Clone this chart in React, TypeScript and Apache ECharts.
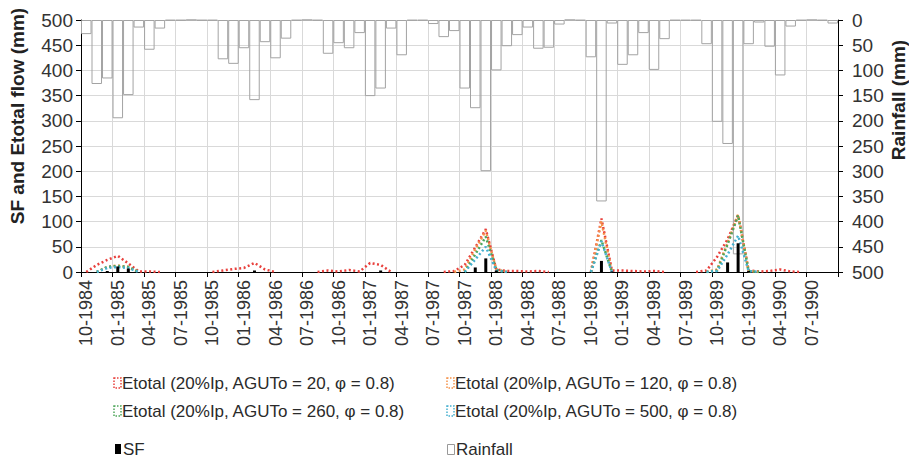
import React, { useEffect, useRef } from "react";
import * as echarts from "echarts";

// ---- data ----
const START_MONTH = 10;
const START_YEAR = 1984;
const MONTH_COUNT = 72;
const months: string[] = [];
for (let k = 0; k < MONTH_COUNT; k++) {
  const m = ((START_MONTH - 1 + k) % 12) + 1;
  const y = START_YEAR + Math.floor((START_MONTH - 1 + k) / 12);
  months.push(`${String(m).padStart(2, "0")}-${y}`);
}

const rainfall: number[] = [
  28, 127, 116, 195, 149, 15, 59, 17, 1, 1, 0, 1,
  1, 78, 87, 56, 159, 44, 76, 37, 1, 0, 1, 67,
  46, 56, 26, 151, 136, 17, 70, 1, 1, 8, 34, 22,
  136, 175, 300, 100, 52, 30, 15, 57, 55, 9, 0, 1,
  74, 360, 7, 89, 70, 26, 99, 38, 1, 1, 1, 48,
  202, 246, 465, 48, 5, 53, 110, 13, 1, 0, 1, 7,
];

const sf: number[] = [
  0, 0, 2, 11, 7, 0, 0, 0, 0, 0, 0, 0,
  0, 0, 0, 0, 3, 0, 0, 0, 0, 0, 0, 0,
  0, 0, 0, 0, 3, 0, 0, 0, 0, 0, 0, 0,
  0, 9, 27, 3, 0, 0, 0, 0, 0, 0, 0, 0,
  0, 22, 1, 0, 0, 0, 0, 0, 0, 0, 0, 0,
  0, 19, 57, 2, 0, 0, 0, 0, 0, 0, 0, 0,
];

const etotal20: number[] = [
  0, 14, 24, 32, 17, 1, 1, 0, 0, 0, 0, 0,
  0, 3, 6, 8, 18, 5, 0, 0, 0, 0, 0, 3,
  1, 4, 1, 18, 14, 0, 0, 0, 0, 0, 0, 2,
  14, 49, 85, 5, 2, 2, 1, 2, 0, 0, 0, 0,
  0, 106, 3, 3, 2, 1, 2, 0, 0, 0, 0, 3,
  30, 65, 113, 3, 1, 2, 5, 1, 0, 0, 0, 0,
];

const etotal120: number[] = [
  0, 0, 10, 13, 10, 0, 0, 0, 0, 0, 0, 0,
  0, 0, 0, 0, 0, 0, 0, 0, 0, 0, 0, 0,
  0, 0, 0, 0, 0, 0, 0, 0, 0, 0, 0, 0,
  5, 45, 82, 5, 0, 0, 0, 0, 0, 0, 0, 0,
  0, 100, 0, 0, 0, 0, 0, 0, 0, 0, 0, 0,
  5, 58, 114, 2, 0, 0, 0, 0, 0, 0, 0, 0,
];

const etotal260: number[] = [
  0, 0, 10, 12, 10, 0, 0, 0, 0, 0, 0, 0,
  0, 0, 0, 0, 0, 0, 0, 0, 0, 0, 0, 0,
  0, 0, 0, 0, 0, 0, 0, 0, 0, 0, 0, 0,
  0, 35, 70, 4, 0, 0, 0, 0, 0, 0, 0, 0,
  0, 63, 0, 0, 0, 0, 0, 0, 0, 0, 0, 0,
  3, 55, 112, 2, 0, 0, 0, 0, 0, 0, 0, 0,
];

const etotal500: number[] = [
  0, 0, 8, 10, 8, 0, 0, 0, 0, 0, 0, 0,
  0, 0, 0, 0, 0, 0, 0, 0, 0, 0, 0, 0,
  0, 0, 0, 0, 0, 0, 0, 0, 0, 0, 0, 0,
  0, 25, 50, 3, 0, 0, 0, 0, 0, 0, 0, 0,
  0, 61, 0, 0, 0, 0, 0, 0, 0, 0, 0, 0,
  2, 35, 72, 2, 0, 0, 0, 0, 0, 0, 0, 0,
];

const yTicks = { min: 0, max: 500, interval: 50 };

const lineNames = [
  "Etotal (20%Ip, AGUTo = 20, φ = 0.8)",
  "Etotal (20%Ip, AGUTo = 120, φ = 0.8)",
  "Etotal (20%Ip, AGUTo = 260, φ = 0.8)",
  "Etotal (20%Ip, AGUTo = 500, φ = 0.8)",
];
const lineData = [etotal20, etotal120, etotal260, etotal500];
const lineColors = ["#e8403c", "#f5924a", "#4ea65a", "#45b0d0"];

// hide long runs of zero (they lie on the axis)
const trimZeros = (arr: number[]) =>
  arr.map((v, i) =>
    v === 0 && (arr[i - 1] ?? 0) === 0 && (arr[i + 1] ?? 0) === 0 ? null : v
  );

const FONT = "'Liberation Sans', Arial, sans-serif";

export default function App() {
  const ref = useRef<HTMLDivElement>(null);
  useEffect(() => {
    if (!ref.current) return;
    const chart = echarts.init(ref.current, undefined, { renderer: "svg" });

    const legendItems: any[] = [];
    const legendPos = [
      { x: 114, y: 383 },
      { x: 447, y: 383 },
      { x: 114, y: 411 },
      { x: 447, y: 411 },
    ];
    lineNames.forEach((n, k) => {
      const p = legendPos[k];
      legendItems.push({
        type: "rect",
        shape: { x: p.x, y: p.y - 5, width: 7, height: 10 },
        style: { fill: "none", stroke: lineColors[k], lineWidth: 1.5, lineDash: [1.5, 1.5] },
      });
      legendItems.push({
        type: "text",
        x: p.x + 8,
        y: p.y,
        style: { text: n, fontSize: 17, fontFamily: FONT, fill: "#2a2a2a", verticalAlign: "middle", align: "left" },
      });
    });
    legendItems.push({
      type: "rect",
      shape: { x: 115, y: 444, width: 6, height: 10 },
      style: { fill: "#000" },
    });
    legendItems.push({
      type: "text",
      x: 123,
      y: 449,
      style: { text: "SF", fontSize: 17, fontFamily: FONT, fill: "#2a2a2a", verticalAlign: "middle", align: "left" },
    });
    legendItems.push({
      type: "rect",
      shape: { x: 447.5, y: 444.5, width: 7, height: 10 },
      style: { fill: "none", stroke: "#999", lineWidth: 1 },
    });
    legendItems.push({
      type: "text",
      x: 456,
      y: 449,
      style: { text: "Rainfall", fontSize: 17, fontFamily: FONT, fill: "#2a2a2a", verticalAlign: "middle", align: "left" },
    });

    const option: any = {
      animation: false,
      backgroundColor: "#fff",
      textStyle: { fontFamily: FONT },
      grid: { left: 81, right: 71, top: 20, bottom: 187, outerBoundsMode: "none" },
      xAxis: [
        {
          type: "category",
          data: months,
          boundaryGap: true,
          axisLine: { show: true, lineStyle: { color: "#000", width: 1 } },
          axisTick: { show: true, interval: 2, length: 5, lineStyle: { color: "#000" } },
          axisLabel: { interval: 2, rotate: 90, fontSize: 18, color: "#333", margin: 8, fontFamily: FONT },
          splitLine: { show: true, interval: 2, lineStyle: { color: "#d9d9d9", width: 1 } },
        },
        { type: "category", data: months, boundaryGap: true, show: false },
      ],
      yAxis: [
        {
          type: "value",
          position: "left",
          ...yTicks,
          axisLine: { show: true, lineStyle: { color: "#000" } },
          axisTick: { show: true, length: 5, lineStyle: { color: "#000" } },
          axisLabel: { fontSize: 19, color: "#333", margin: 8, fontFamily: FONT },
          splitLine: { show: true, lineStyle: { color: "#d9d9d9", width: 1 } },
        },
        {
          type: "value",
          position: "right",
          inverse: true,
          ...yTicks,
          axisLine: { show: true, lineStyle: { color: "#000" } },
          axisTick: { show: true, length: 5, lineStyle: { color: "#000" } },
          axisLabel: { fontSize: 19, color: "#333", margin: 14, fontFamily: FONT },
          splitLine: { show: false },
        },
      ],
      series: [
        {
          name: "Rainfall",
          type: "bar",
          xAxisIndex: 0,
          yAxisIndex: 1,
          data: rainfall,
          barWidth: "100%",
          itemStyle: { color: "rgba(255,255,255,0)", borderColor: "#a3a3a3", borderWidth: 1 },
          z: 1,
        },
        ...lineData.map((d, k) => ({
          name: lineNames[k],
          type: "line",
          xAxisIndex: 0,
          yAxisIndex: 0,
          data: trimZeros(d),
          showSymbol: false,
          symbol: "none",
          connectNulls: false,
          lineStyle: { color: lineColors[k], width: 2.5, type: [2, 2.5] },
          z: 3,
        })),
        {
          name: "SF",
          type: "bar",
          xAxisIndex: 1,
          yAxisIndex: 0,
          data: sf,
          barWidth: 3,
          itemStyle: { color: "#000" },
          z: 4,
        },
      ],
      graphic: [
        {
          type: "text",
          x: 17,
          y: 116,
          rotation: Math.PI / 2,
          style: {
            text: "SF and Etotal flow (mm)",
            fontSize: 19,
            fontWeight: "bold",
            fontFamily: FONT,
            fill: "#222",
            align: "center",
            verticalAlign: "middle",
          },
        },
        {
          type: "text",
          x: 898,
          y: 100,
          rotation: Math.PI / 2,
          style: {
            text: "Rainfall (mm)",
            fontSize: 19,
            fontWeight: "bold",
            fontFamily: FONT,
            fill: "#222",
            align: "center",
            verticalAlign: "middle",
          },
        },
        ...legendItems,
      ],
    };
    chart.setOption(option);
    return () => chart.dispose();
  }, []);

  return (
    <div
      ref={ref}
      style={{ position: "fixed", left: 0, top: 0, width: 909, height: 459, background: "#fff" }}
    />
  );
}
